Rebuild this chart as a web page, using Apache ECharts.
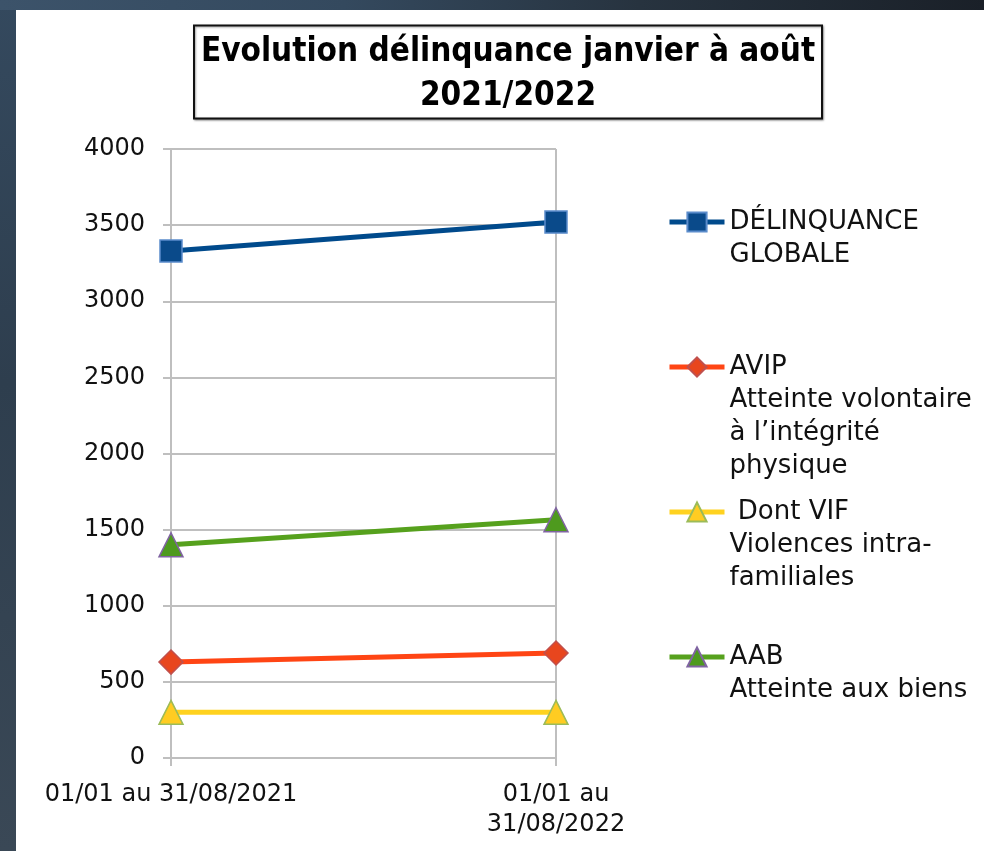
<!DOCTYPE html>
<html>
<head>
<meta charset="utf-8">
<script src="https://cdn.jsdelivr.net/npm/echarts@6/dist/echarts.min.js"></script>
<style>
html,body{margin:0;padding:0;width:984px;height:851px;overflow:hidden;}
body{background:linear-gradient(to bottom,#34495e 0%,#2e3e4e 45%,#3a4856 100%);}
#topstrip{position:absolute;left:0;top:0;width:984px;height:10px;background:linear-gradient(to right,#3c536a 0%,#34495e 35%,#27333f 65%,#1a2028 100%);}
#white{position:absolute;left:16px;top:10px;width:968px;height:841px;background:#ffffff;}
#chart{position:absolute;left:0;top:0;width:984px;height:851px;}
</style>
</head>
<body>
<div id="topstrip"></div>
<div id="white"></div>
<div id="chart"></div>
<script>
const titleText = 'Evolution délinquance janvier à août\n2021/2022';
const categories = ['01/01 au 31/08/2021', '01/01 au\n31/08/2022'];
const seriesNames = [
  'DÉLINQUANCE\nGLOBALE',
  'AVIP\nAtteinte volontaire\nà l\u2019intégrité\nphysique',
  ' Dont VIF\nViolences intra-\nfamiliales',
  'AAB\nAtteinte aux biens'
];
const globale = [3330, 3520];
const avip = [630, 690];
const vif = [300, 300];
const aab = [1400, 1565];
const yTicks = [0, 500, 1000, 1500, 2000, 2500, 3000, 3500, 4000];

const FONT = '"DejaVu Sans"';
const TITLE_FONT = '"DejaVu Sans Condensed"';
const lineColors = ['#004a8c', '#ff4514', '#ffd21f', '#56a11d'];
const markerFill = ['#0a4a8a', '#e8461e', '#ffcc22', '#4e9a1e'];
const markerBorder = ['#5b8ccb', '#c0504d', '#9bbb59', '#8064a2'];
const symbols = ['rect', 'diamond', 'triangle', 'triangle'];
const symSizes = [22, 24, 24, 24];
const dataSets = [globale, avip, vif, aab];

const LH = 33;
const legendCenters = [222, 367, 512, 657];

const series = dataSets.map((d, i) => ({
  name: seriesNames[i],
  type: 'line',
  data: d,
  symbol: symbols[i],
  symbolSize: symSizes[i],
  lineStyle: {color: lineColors[i], width: 5},
  itemStyle: {color: markerFill[i], borderColor: markerBorder[i], borderWidth: 1.5},
  emphasis: {disabled: true},
  z: 2 + i
}));

const legends = seriesNames.map((n, i) => {
  const lines = n.split('\n').length;
  return {
    data: [n],
    orient: 'vertical',
    left: 667,
    top: legendCenters[i] - (2 * lines - 1) * LH / 2,
    padding: 0,
    itemWidth: 55,
    itemHeight: 24,
    selectedMode: false,
    lineStyle: {width: 5},
    formatter: name => '\n'.repeat(lines - 1) + name,
    textStyle: {fontFamily: FONT, fontSize: 26, color: '#111', lineHeight: LH}
  };
});

const chart = echarts.init(document.getElementById('chart'));
chart.setOption({
  animation: false,
  graphic: [
    {type: 'rect', shape: {x: 194, y: 25.5, width: 628, height: 93},
      style: {fill: '#fff', stroke: '#111', lineWidth: 2,
        shadowColor: 'rgba(0,0,0,0.35)', shadowBlur: 2, shadowOffsetX: 1, shadowOffsetY: 1}, z: 10},
    {type: 'text', x: 508, y: 74.5, z: 11,
      style: {text: titleText, align: 'center', verticalAlign: 'middle',
        font: 'bold 33px ' + TITLE_FONT, lineHeight: 44, fill: '#000'}}
  ],
  legend: legends,
  grid: {left: 171, right: 428, top: 149, bottom: 93, containLabel: false},
  xAxis: {
    type: 'category',
    data: categories,
    boundaryGap: false,
    axisLine: {lineStyle: {color: '#bfbfbf', width: 2}},
    axisTick: {show: true, length: 8, lineStyle: {color: '#bfbfbf', width: 2}},
    splitLine: {show: true, lineStyle: {color: '#bfbfbf', width: 2}},
    axisLabel: {fontFamily: FONT, fontSize: 24, color: '#111', margin: 22, lineHeight: 30}
  },
  yAxis: {
    type: 'value',
    min: 0, max: 4000, interval: 500,
    axisLine: {show: true, lineStyle: {color: '#bfbfbf', width: 2}},
    axisTick: {show: true, length: 8, lineStyle: {color: '#bfbfbf', width: 2}},
    splitLine: {show: true, lineStyle: {color: '#bfbfbf', width: 2}},
    axisLabel: {fontFamily: FONT, fontSize: 24, color: '#111', margin: 26,
      formatter: v => yTicks.includes(v) ? String(v) : ''}
  },
  series: series
});
</script>
</body>
</html>
